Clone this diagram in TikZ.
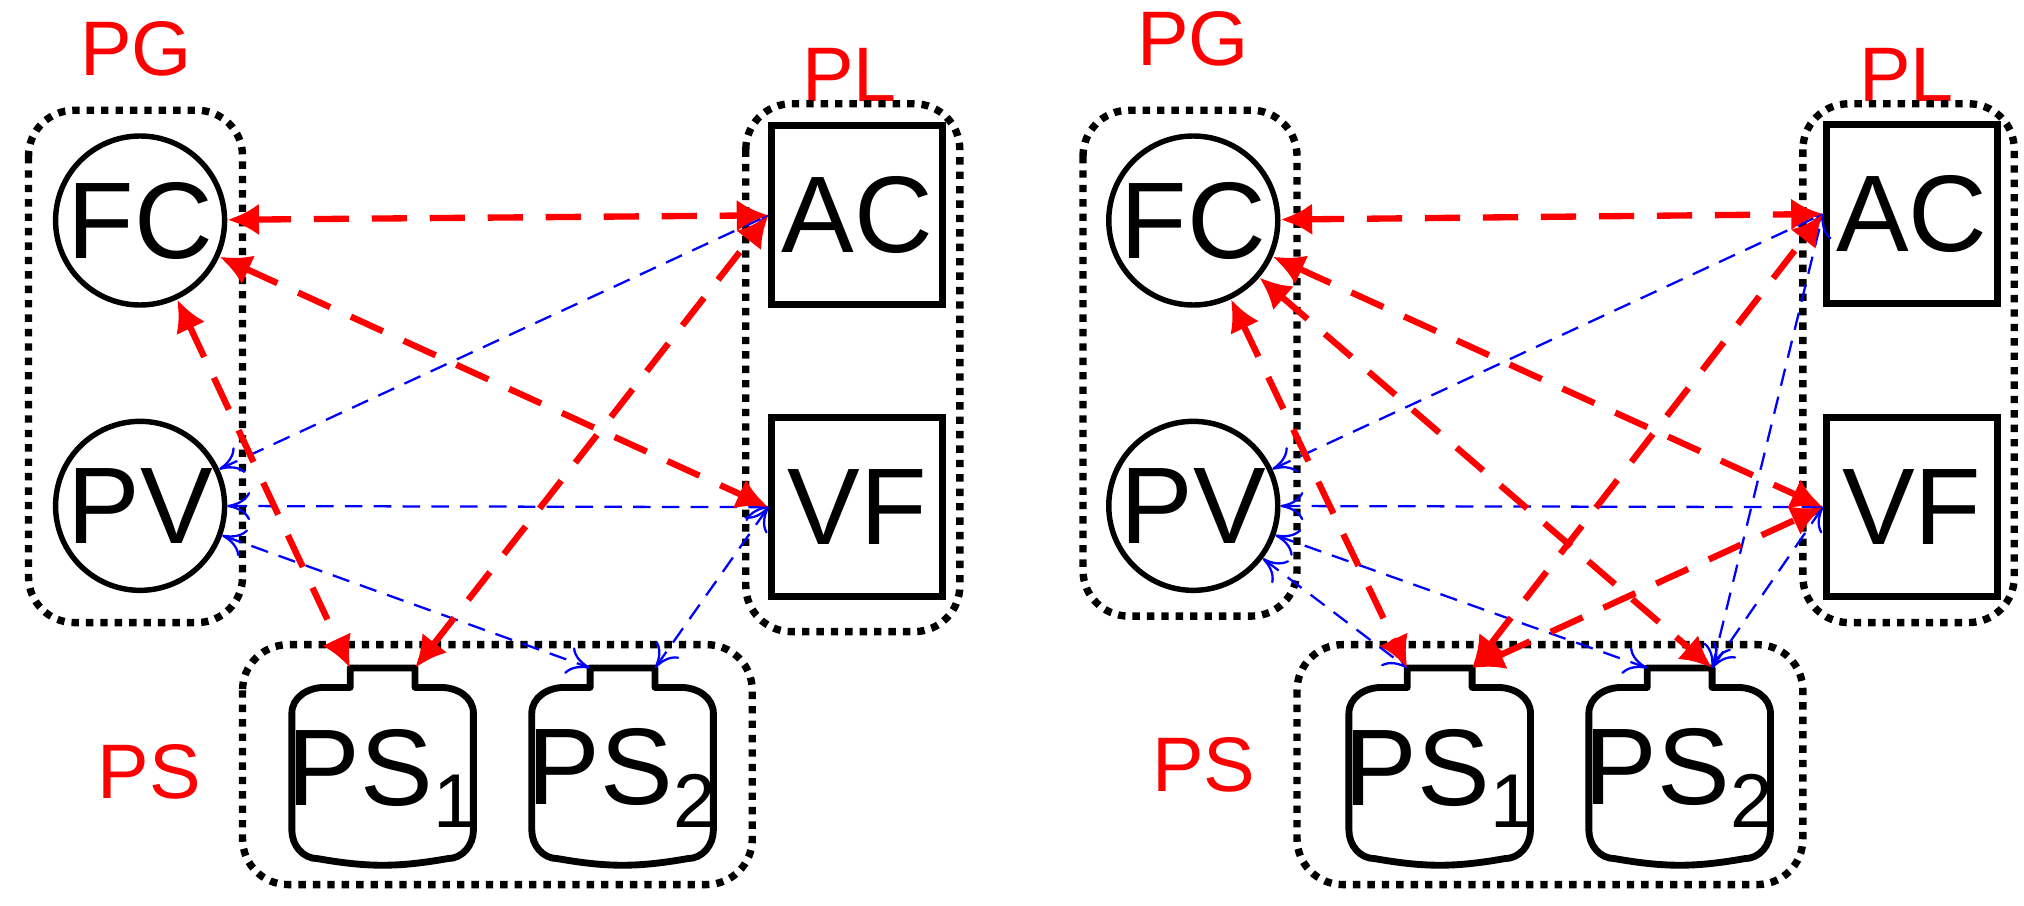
\documentclass[tikz,border=0pt]{standalone}
\usepackage{fontspec}
\setmainfont{Liberation Sans}
\usetikzlibrary{arrows.meta}
\newcommand{\mybat}[3]{% name, left x, text
  \draw[line width=1.95pt,line join=round] (#2,640) -- (#2,550) to[out=90,in=180] (#2+25,530) -- (#2+45,530) -- (#2+45,515) -- (#2+95,515) -- (#2+95,530) -- (#2+115,530) to[out=0,in=90] (#2+140,550) -- (#2+140,640) to[out=-90,in=0] (#2+120,662) to[out=190,in=-10] (#2+20,662) to[out=180,in=-90] cycle;
  \coordinate (#1l) at (#2+45,515);
  \coordinate (#1r) at (#2+95,515);
  \node[bat] (#1t) at (#2+70,600) {#3};}
\begin{document}
\begin{tikzpicture}[x=0.01297cm,y=-0.01297cm,every node/.append style={transform shape},scale=1,
  grp/.style={draw,line width=2.1pt,dotted,rounded corners=13},
  circ/.style={draw,circle,line width=1.55pt,minimum size=1.69cm,inner sep=0pt,font=\fontsize{31}{31}\selectfont},
  sq/.style={draw,line width=1.95pt,minimum width=1.71cm,minimum height=1.79cm,inner sep=0pt,font=\fontsize{31}{31}\selectfont},
  lab/.style={text=red,font=\fontsize{22}{22}\selectfont},
  bat/.style={font=\fontsize{31}{31}\selectfont},
  red/.style={draw=red,line width=1.8pt,dash pattern=on 10pt off 6.5pt,{Latex[length=9pt,width=9pt]}-{Latex[length=9pt,width=9pt]}},
  blu/.style={draw=blue,line width=0.65pt,dash pattern=on 5pt off 3.2pt,{To[length=6.5pt,width=8pt]}-{To[length=6.5pt,width=8pt]}}]
\path[use as bounding box] (0,0) rectangle (1560.5,697.8);
% ---------- left
\node[lab] (pgA) at (105,38) {PG};
\node[lab] (plA) at (655,58) {PL};
\node[lab] (psA) at (115,595) {PS};
\draw[grp] (22,85) rectangle (187,480);
\draw[grp] (575,80) rectangle (740,487);
\draw[grp] (187,497) rectangle (580,682);
\node[circ] (fcA) at (108,170) {FC};
\node[circ] (pvA) at (108,390) {PV};
\node[sq] (acA) at (661,166) {AC};
\node[sq] (vfA) at (661,391) {VF};
\mybat{aA}{225}{PS\textsubscript{1}}
\mybat{bA}{410}{PS\textsubscript{2}}
\draw[blu] (pvA) -- (acA.west);
\draw[blu] (pvA) -- (vfA.west);
\draw[blu] (pvA) -- (bAl);
\draw[blu] (bAr) -- (vfA.west);
\draw[red] (fcA) -- (acA.west);
\draw[red] (fcA) -- (vfA.west);
\draw[red] (fcA) -- (aAl);
\draw[red] (aAr) -- (acA.west);
% ---------- right
\node[lab] (pgB) at (920,30) {PG};
\node[lab] (plB) at (1470,58) {PL};
\node[lab] (psB) at (928,590) {PS};
\draw[grp] (835,85) rectangle (1000,475);
\draw[grp] (1390,80) rectangle (1553,480);
\draw[grp] (1000,497) rectangle (1390,682);
\node[circ] (fcB) at (920,170) {FC};
\node[circ] (pvB) at (920,390) {PV};
\node[sq] (acB) at (1474,165) {AC};
\node[sq] (vfB) at (1474,391) {VF};
\mybat{aB}{1040}{PS\textsubscript{1}}
\mybat{bB}{1225}{PS\textsubscript{2}}
\draw[blu] (pvB) -- (acB.west);
\draw[blu] (pvB) -- (vfB.west);
\draw[blu] (pvB) -- (aBl);
\draw[blu] (pvB) -- (bBl);
\draw[blu] (bBr) -- (acB.west);
\draw[blu] (bBr) -- (vfB.west);
\draw[red] (fcB) -- (acB.west);
\draw[red] (fcB) -- (vfB.west);
\draw[red] (fcB) -- (aBl);
\draw[red] (fcB) -- (bBr);
\draw[red] (aBr) -- (acB.west);
\draw[red] (aBr) -- (vfB.west);
\end{tikzpicture}
\end{document}
